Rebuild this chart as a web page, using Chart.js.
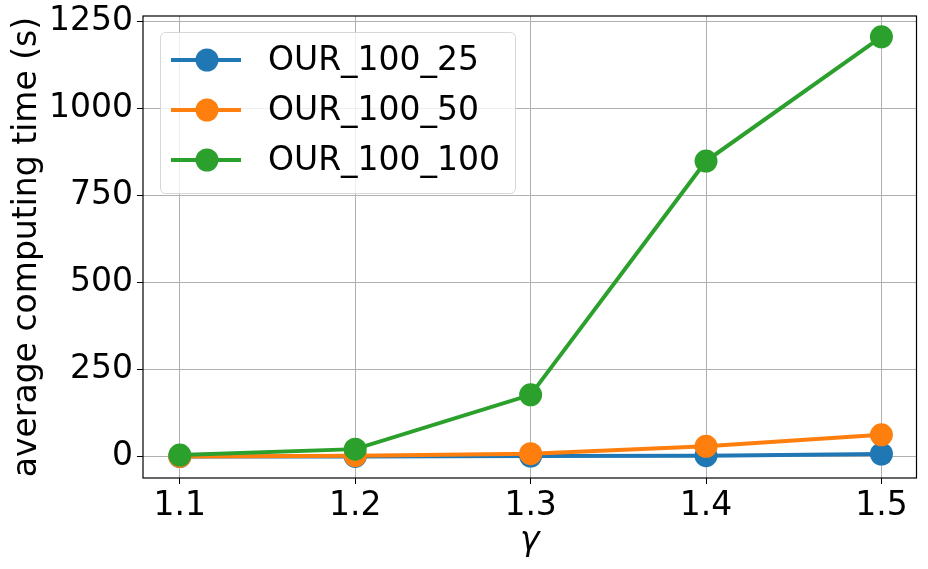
<!DOCTYPE html>
<html>
<head>
<meta charset="utf-8">
<script src="https://cdn.jsdelivr.net/npm/chart.js@4/dist/chart.umd.min.js"></script>
<style>
  html, body { margin: 0; padding: 0; background: #fff; }
  #wrap { width: 928px; height: 569px; }
</style>
</head>
<body>
<div id="wrap"><canvas id="chart" width="928" height="569"></canvas></div>
<script>
// data
const gammas = [1.1, 1.2, 1.3, 1.4, 1.5];
const our_100_25 = [0.5, 1, 2, 3, 8];
const our_100_50 = [1, 3, 9, 30, 63];
const our_100_100 = [5, 22, 178, 850, 1207];
const seriesLabels = ['OUR_100_25', 'OUR_100_50', 'OUR_100_100'];
const seriesColors = ['#1f77b4', '#ff7f0e', '#2ca02c'];
const yTicks = [0, 250, 500, 750, 1000, 1250];

const FONT = 'DejaVu Sans';
const FS = 33;

function pts(ys) {
    return gammas.map((g, i) => ({ x: g, y: ys[i] }));
}

const allSeries = [our_100_25, our_100_50, our_100_100];

const datasets = allSeries.map((ys, i) => ({
    label: seriesLabels[i],
    data: pts(ys),
    borderColor: seriesColors[i],
    backgroundColor: seriesColors[i],
    borderWidth: 4,
    pointRadius: 11.5,
    pointHoverRadius: 11.5,
    pointBorderWidth: 0,
    showLine: true,
    tension: 0,
    order: 2 - i
}));

// legend with line + marker, like matplotlib
const legendBox = {
    id: 'legendBox',
    afterDraw(chart) {
        const ctx = chart.ctx;
        const x = 160, y = 32, w = 355, h = 161, r = 5;
        ctx.save();
        ctx.beginPath();
        ctx.roundRect(x + 0.5, y + 0.5, w, h, r);
        ctx.fillStyle = 'rgba(255,255,255,0.8)';
        ctx.fill();
        ctx.strokeStyle = '#d6d6d6';
        ctx.lineWidth = 1;
        ctx.stroke();
        chart.data.datasets.forEach((ds, i) => {
            const cy = 60 + i * 50;
            ctx.strokeStyle = ds.borderColor;
            ctx.lineWidth = 4;
            ctx.beginPath();
            ctx.moveTo(171, cy);
            ctx.lineTo(241, cy);
            ctx.stroke();
            ctx.fillStyle = ds.borderColor;
            ctx.beginPath();
            ctx.arc(207, cy, 11.5, 0, Math.PI * 2);
            ctx.fill();
            ctx.fillStyle = '#000';
            ctx.font = FS + 'px "' + FONT + '"';
            ctx.textBaseline = 'middle';
            ctx.fillText(ds.label, 268, cy + 1);
        });
        ctx.restore();
    }
};

// full frame round the plot area
const frame = {
    id: 'frame',
    afterDatasetsDraw(chart) {
        const a = chart.chartArea;
        const ctx = chart.ctx;
        ctx.save();
        ctx.strokeStyle = '#000';
        ctx.lineWidth = 1.2;
        ctx.strokeRect(a.left, a.top, a.right - a.left, a.bottom - a.top);
        ctx.restore();
    }
};

new Chart(document.getElementById('chart'), {
    type: 'scatter',
    data: { datasets: datasets },
    options: {
        responsive: false,
        animation: false,
        layout: { padding: { left: 0, right: 10, top: 16, bottom: 0 } },
        plugins: {
            legend: { display: false },
            tooltip: { enabled: false }
        },
        scales: {
            x: {
                type: 'linear',
                min: 1.079,
                max: 1.520,
                afterBuildTicks(scale) {
                    scale.ticks = gammas.map(v => ({ value: v }));
                },
                afterFit(scale) {
                    scale.height = 91;
                    scale.paddingLeft = 0;
                    scale.paddingRight = 0;
                },
                ticks: {
                    color: '#000',
                    font: { family: FONT, size: FS },
                    padding: 3,
                    maxRotation: 0,
                    callback: v => v.toFixed(1)
                },
                grid: { color: '#b0b0b0', lineWidth: 1, tickLength: 6, tickColor: '#000' },
                border: { display: false },
                title: {
                    display: true,
                    text: 'γ',
                    color: '#000',
                    font: { family: FONT, size: FS, style: 'italic' },
                    padding: { top: 0, bottom: 8 }
                }
            },
            y: {
                type: 'linear',
                min: -61,
                max: 1267,
                afterBuildTicks(scale) {
                    scale.ticks = yTicks.map(v => ({ value: v }));
                },
                afterFit(scale) {
                    scale.width = 143;
                    scale.paddingTop = 0;
                    scale.paddingBottom = 0;
                },
                ticks: {
                    color: '#000',
                    font: { family: FONT, size: FS },
                    padding: 4,
                    callback: v => String(v)
                },
                grid: { color: '#b0b0b0', lineWidth: 1, tickLength: 6, tickColor: '#000' },
                border: { display: false },
                title: {
                    display: true,
                    text: 'average computing time (s)',
                    color: '#000',
                    font: { family: FONT, size: FS },
                    padding: { top: 8, bottom: 0 }
                }
            }
        }
    },
    plugins: [frame, legendBox]
});
</script>
</body>
</html>
